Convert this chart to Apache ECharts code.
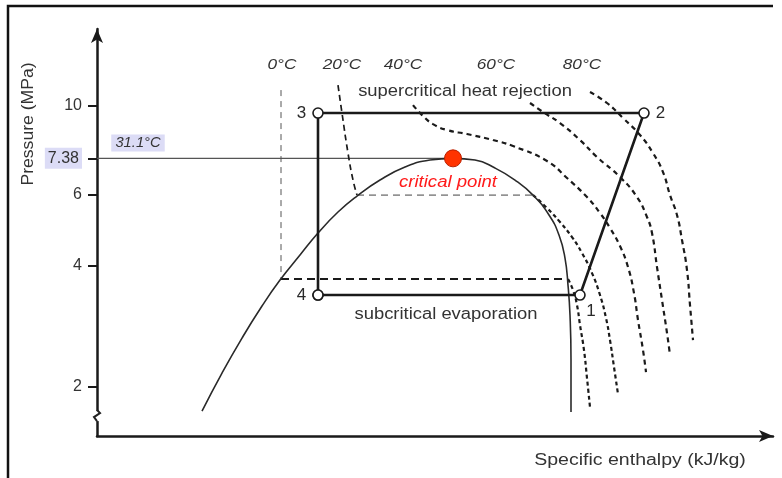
<!DOCTYPE html>
<html><head><meta charset="utf-8">
<script src="https://cdn.jsdelivr.net/npm/echarts@6/dist/echarts.min.js"></script>
<style>html,body{margin:0;padding:0;background:#fff}#c{width:782px;height:478px}</style>
</head><body><div id="c"></div>
<script>
// Pressure axis ticks (MPa)
const pressureTicks = [2, 4, 6, 7.38, 10];
const pressureTickLabels = ['2', '4', '6', '7.38', '10'];
// Axis extents (enthalpy kJ/kg, pressure MPa)
const hRange = [100, 505.6];
const pRange = [1.507, 15.47];

// Saturation dome [h, p]
const dome = [[163.0,1.738],[175.0,2.160],[187.0,2.639],[199.0,3.170],[209.8,3.678],[221.8,4.244],[232.6,4.813],[244.6,5.428],[256.0,5.947],[269.8,6.519],[284.8,7.022],[299.8,7.309],[313.6,7.38],[326.8,7.309],[338.8,6.982],[350.8,6.519],[361.6,5.981],[371.2,5.336],[377.2,4.758],[380.8,4.172],[382.6,3.574],[383.8,3.011],[384.4,2.33],[384.4,1.728]];
const criticalPoint = [313.6, 7.38];
const criticalLine = [[100, 7.38], [313.6, 7.38]];

// Transcritical cycle: 4 -> 3 -> 2 -> 1 -> 4
const cycleNames = ['4', '3', '2', '1'];
const cyclePoints = [[232.6,3.376],[232.6,9.564],[428.2,9.564],[389.8,3.376]];

// Isotherms
const iso0Liquid = [[210.4,10.908],[210.4,3.70]];
const iso0Plateau = [[210.4,3.70],[382.6,3.70]];
const iso0Vapor = [[382.6,3.70],[385.6,3.473],[388.0,3.188],[389.8,2.843],[392.2,2.464],[394.0,2.099],[395.8,1.778]];
const iso20Liquid = [[244.6,11.22],[247.0,9.564],[250.6,7.606],[253.6,6.519],[256.0,5.981]];
const iso20Plateau = [[256.0,5.981],[361.6,5.981]];
const iso20Vapor = [[361.6,5.981],[370.0,5.553],[377.8,5.125],[385.0,4.704],[391.0,4.294],[397.0,3.828],[401.8,3.376],[405.4,2.960],[407.8,2.609],[410.2,2.236],[412.6,1.916]];
const iso40 = [[289.6,10.01],[295.6,9.400],[301.6,8.979],[310.0,8.678],[322.0,8.482],[337.6,8.195],[349.6,7.918],[370.0,7.268],[382.0,6.594],[394.0,5.913],[401.8,5.398],[407.8,4.953],[413.8,4.468],[418.6,3.962],[422.2,3.414],[424.6,2.926],[427.6,2.464],[429.4,2.173]];
const iso60 = [[359.8,10.13],[367.6,9.618],[377.8,9.031],[389.8,8.195],[400.0,7.436],[413.8,6.632],[424.0,5.913],[430.0,5.275],[433.0,4.813],[436.0,3.962],[439.0,3.281],[442.0,2.717],[443.8,2.394]];
const iso80 = [[395.8,10.785],[406.0,10.13],[415.6,9.295],[425.8,8.433],[433.6,7.606],[439.6,6.823],[443.8,5.981],[448.0,5.336],[451.0,4.624],[454.0,3.895],[455.8,3.188],[457.6,2.609]];

const L = a => a.map(d => [d[0], Math.log10(d[1])]);
const FONT = '"Liberation Sans", Arial, sans-serif';
const chart = echarts.init(document.getElementById('c'), null, {renderer: 'canvas'});

function dashed(data, color, width, dash, smooth) {
  return {type: 'line', data: L(data), symbol: 'none', smooth: smooth || false, silent: true,
    lineStyle: {color: color, width: width, type: dash}, z: 3};
}

const option = {
  animation: false,
  grid: {left: 97, right: 9, top: 29, bottom: 42},
  xAxis: {type: 'value', min: hRange[0], max: hRange[1],
    axisLine: {show: true, symbol: ['none', 'arrow'], symbolSize: [9, 14], lineStyle: {color: '#1a1a1a', width: 2.5}},
    axisTick: {show: false}, axisLabel: {show: false}, splitLine: {show: false}},
  yAxis: {type: 'value', min: Math.log10(pRange[0]), max: Math.log10(pRange[1]),
    axisLine: {show: true, symbol: ['none', 'arrow'], symbolSize: [9, 14], lineStyle: {color: '#1a1a1a', width: 2.5}},
    axisTick: {show: true, length: 9, lineStyle: {color: '#1a1a1a', width: 2}, customValues: pressureTicks.map(Math.log10)},
    axisLabel: {show: true, margin: 15, fontSize: 16, color: '#333', fontFamily: FONT,
      customValues: pressureTicks.map(Math.log10),
      formatter: function (v) {
        let i = 0, best = 1e9;
        pressureTicks.forEach((t, k) => { const d = Math.abs(Math.log10(t) - v); if (d < best) { best = d; i = k; } });
        const s = pressureTickLabels[i];
        return s === '7.38' ? '{hl|' + s + '}' : s;
      },
      rich: {hl: {backgroundColor: '#dcdcf6', padding: [3, 3, 2, 3], fontSize: 16, color: '#333', fontFamily: FONT}}},
    splitLine: {show: false}},
  series: [
    {type: 'line', data: L(dome), symbol: 'none', smooth: 0.5, silent: true, lineStyle: {color: '#2a2a2a', width: 1.6}, z: 4},
    {type: 'line', data: L(criticalLine), symbol: 'none', silent: true, lineStyle: {color: '#555', width: 1.2}, z: 2},
    dashed(iso0Liquid, '#555', 1, [6, 5]),
    dashed(iso0Plateau, '#1a1a1a', 2, [8, 5]),
    dashed(iso0Vapor, '#1a1a1a', 2.2, [4, 3], 0.5),
    dashed(iso20Liquid, '#1a1a1a', 1.7, [6, 4], 0.5),
    dashed(iso20Plateau, '#444', 1, [7, 5]),
    dashed(iso20Vapor, '#1a1a1a', 2.2, [4, 3], 0.5),
    dashed(iso40, '#1a1a1a', 2.2, [5, 4], 0.5),
    dashed(iso60, '#1a1a1a', 2.2, [5, 4], 0.5),
    dashed(iso80, '#1a1a1a', 2.2, [5, 4], 0.5),
    {type: 'line', z: 6, silent: true,
      data: cyclePoints.concat([cyclePoints[0]]).map((d, i) => {
        const pos = ['left', 'left', 'right', 'bottom'][i];
        return {value: [d[0], Math.log10(d[1])],
          label: {show: i < 4, formatter: cycleNames[i] || '', position: pos,
            distance: i === 3 ? 2 : 6, offset: i === 3 ? [11, 0] : [0, 0],
            fontSize: 17, color: '#2a2a2a', fontFamily: FONT}};
      }),
      symbol: 'circle', symbolSize: 10,
      itemStyle: {color: '#fff', borderColor: '#1a1a1a', borderWidth: 1.6, opacity: 1},
      lineStyle: {color: '#1a1a1a', width: 2.6}},
    {type: 'scatter', z: 7, silent: true, data: [[criticalPoint[0], Math.log10(criticalPoint[1])]],
      symbolSize: 17, itemStyle: {color: '#ff3300', borderColor: '#b82000', borderWidth: 1, opacity: 1}}
  ]
};
chart.setOption(option);

const brk = chart.convertToPixel({gridIndex: 0}, [hRange[0], Math.log10(1.689)]);
const bx = brk[0], by = brk[1];
function txt(text, x, y, size, opts) {
  opts = opts || {};
  return {type: 'text', x: x, y: y, rotation: opts.rotation || 0, scaleX: opts.sx || 1, z: 20,
    style: {text: text, x: 0, y: 0, font: (opts.italic ? 'italic ' : '') + size + 'px ' + FONT,
      fill: opts.color || '#333', align: 'center', verticalAlign: 'middle',
      textAlign: 'center', textVerticalAlign: 'middle',
      backgroundColor: opts.bg, padding: opts.bg ? [2, 4, 1, 4] : 0}};
}
chart.setOption({graphic: [
  {type: 'polyline', shape: {points: [[8, 478], [8, 6], [773, 6]]}, style: {stroke: '#111', lineWidth: 2.5, fill: null}, z: 20},
  {type: 'rect', shape: {x: bx - 3, y: by - 5, width: 6, height: 10}, style: {fill: '#fff'}, z: 21},
  {type: 'polyline', shape: {points: [[bx, by - 6], [bx + 3, by - 3], [bx - 3, by + 1], [bx, by + 5]]}, style: {stroke: '#222', lineWidth: 2, fill: null}, z: 22},
  txt('Pressure (MPa)', 29, 124, 16, {rotation: Math.PI / 2, sx: 1.1}),
  txt('Specific enthalpy (kJ/kg)', 640, 461, 16, {sx: 1.22}),
  txt('0°C', 282, 65, 15, {italic: true, sx: 1.15}),
  txt('20°C', 342, 65, 15, {italic: true, sx: 1.15}),
  txt('40°C', 403, 65, 15, {italic: true, sx: 1.15}),
  txt('60°C', 496, 65, 15, {italic: true, sx: 1.15}),
  txt('80°C', 582, 65, 15, {italic: true, sx: 1.15}),
  txt('supercritical heat rejection', 465, 92, 16, {sx: 1.15}),
  txt('subcritical evaporation', 446, 315, 16, {sx: 1.15}),
  txt('critical point', 448, 183, 16, {italic: true, color: '#ff1a1a', sx: 1.16}),
  txt('31.1°C', 138, 143, 14, {italic: true, bg: '#dcdcf6', sx: 1.05})
]});
</script>
</body></html>
